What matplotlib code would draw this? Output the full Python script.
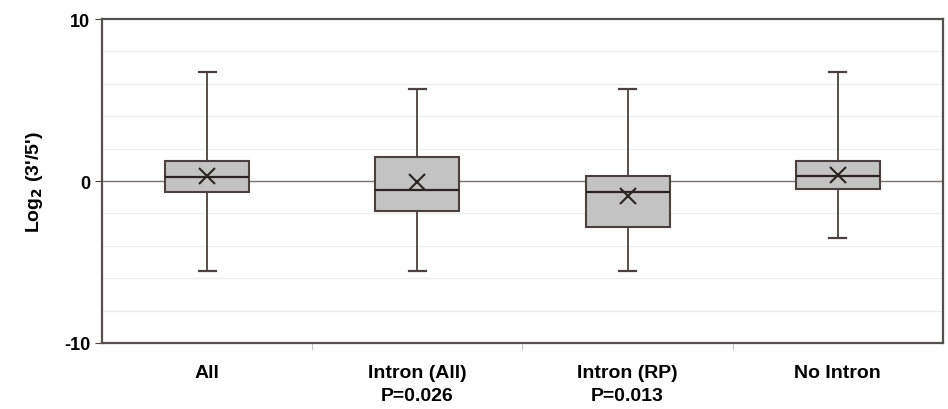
import numpy as np
import matplotlib.pyplot as plt

plt.rcParams['font.family'] = ['Liberation Sans', 'DejaVu Sans']

# values
categories = ["All", "Intron (All)\nP=0.026", "Intron (RP)\nP=0.013", "No Intron"]
whisker_low = [-5.54, -5.54, -5.54, -3.54]
q1 = [-0.66, -1.83, -2.86, -0.49]
medians = [0.25, -0.56, -0.70, 0.33]
q3 = [1.23, 1.46, 0.33, 1.21]
whisker_high = [6.73, 5.68, 5.68, 6.75]
means = [0.33, -0.08, -0.91, 0.39]

stats = []
for i in range(len(categories)):
    stats.append({
        "whislo": whisker_low[i], "q1": q1[i], "med": medians[i],
        "q3": q3[i], "whishi": whisker_high[i], "mean": means[i],
        "fliers": [],
    })

fig = plt.figure(figsize=(9.48, 4.10), dpi=100)
ax = fig.add_axes([0.1076, 0.161, 0.887, 0.79])

edge = "#4a4040"
# faint grid
for g in [-8, -6, -4, -2, 2, 4, 6, 8]:
    ax.axhline(g, color="#eceef0", lw=0.9, zorder=0)
ax.axhline(0, color="#7a7070", lw=1.0, zorder=1)

positions = np.arange(len(categories))
ax.bxp(stats, positions=positions, widths=0.4, patch_artist=True,
       showmeans=True, meanline=False,
       boxprops=dict(facecolor="#c3c3c3", edgecolor=edge, linewidth=1.5),
       medianprops=dict(color="#2a2424", linewidth=1.6),
       whiskerprops=dict(color=edge, linewidth=1.3),
       capprops=dict(color=edge, linewidth=1.6),
       capwidths=0.08,
       meanprops=dict(marker="x", markersize=11, markeredgecolor="#2a2424",
                      markeredgewidth=1.5),
       zorder=3)

ax.set_xlim(-0.5, len(categories) - 0.5)
ax.set_ylim(-10, 10)
ax.set_yticks([-10, 0, 10])
ax.set_yticklabels(["-10", "0", "10"], fontweight="bold", fontsize=13)
ax.set_xticks(positions)
ax.set_xticklabels(categories, fontweight="bold", fontsize=14, linespacing=1.5)
ax.tick_params(axis="x", length=0, pad=15)
ax.set_xticks(positions[1:] - 0.5, minor=True)
ax.tick_params(axis="x", which="minor", length=5, color="#bbbbbb", direction="out")
ax.tick_params(axis="y", length=5, color=edge, direction="out")

for side in ax.spines.values():
    side.set_color("#555050")
    side.set_linewidth(1.6)

ax.set_ylabel("Log$_\\mathbf{2}$ (3'/5')", fontweight="bold", fontsize=14, labelpad=14)

fig.savefig("out.png", dpi=100)
